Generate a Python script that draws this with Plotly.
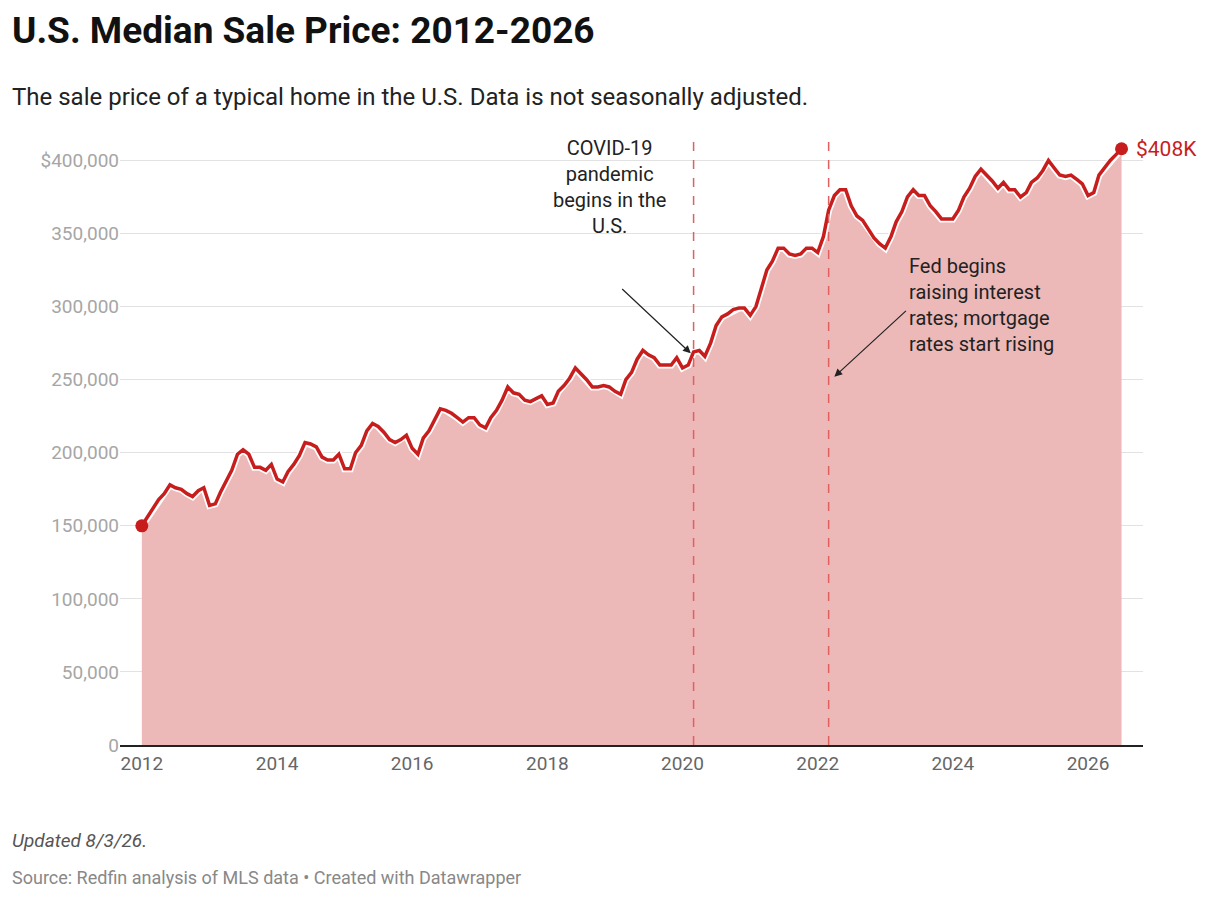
import pandas as pd
import plotly.graph_objects as go

# monthly median sale price, thousands of dollars, Jan 2012 - Jul 2026
prices_k = [
    150, 156, 162, 168, 172, 178, 176, 175, 172, 170, 174, 176,  # 2012
    164, 165, 173, 180, 188, 199, 202, 199, 190, 190, 188, 192,  # 2013
    182, 180, 187, 192, 198, 207, 206, 204, 197, 195, 195, 199,  # 2014
    189, 189, 200, 205, 215, 220, 218, 214, 209, 207, 209, 212,  # 2015
    203, 199, 210, 215, 222, 230, 229, 227, 224, 221, 224, 224,  # 2016
    219, 217, 224, 229, 236, 245, 241, 240, 236, 235, 237, 239,  # 2017
    233, 234, 242, 246, 251, 258, 254, 250, 245, 245, 246, 245,  # 2018
    242, 240, 250, 255, 264, 270, 267, 265, 260, 260, 260, 265,  # 2019
    258, 260, 269, 270, 266, 275, 287, 293, 295, 298, 299, 299,  # 2020
    294, 300, 312, 325, 331, 340, 340, 336, 335, 336, 340, 340,  # 2021
    337, 348, 366, 376, 380, 380, 369, 362, 359, 353, 347, 343,  # 2022
    340, 348, 358, 365, 375, 380, 376, 376, 369, 365, 360, 360,  # 2023
    360, 366, 375, 381, 389, 394, 390, 386, 381, 385, 380, 380,  # 2024
    375, 378, 385, 388, 393, 400, 395, 390, 389, 390, 387, 384,  # 2025
    376, 378, 390, 395, 400, 404, 408,                           # 2026
]
dates = pd.date_range("2012-01-01", periods=len(prices_k), freq="MS")
prices = [p * 1000 for p in prices_k]

tick_years = list(range(2012, 2027, 2))
y_ticks = [0, 50000, 100000, 150000, 200000, 250000, 300000, 350000, 400000]
y_labels = ["0", "50,000", "100,000", "150,000", "200,000", "250,000", "300,000", "350,000", "$400,000"]

covid_date = "2020-03-01"
fed_date = "2022-03-01"

RED = "#c71e1d"
FILL = "#ecb9b8"
FONT = "Roboto"
LEFT = -0.1075  # paper x of the left text column

fig = go.Figure()
fig.add_trace(go.Scatter(x=dates, y=prices, mode="lines", line=dict(width=0),
                         fill="tozeroy", fillcolor=FILL, hoverinfo="skip"))
fig.add_trace(go.Scatter(x=dates, y=prices, mode="lines",
                         line=dict(color="white", width=7), hoverinfo="skip"))
fig.add_trace(go.Scatter(x=dates, y=prices, mode="lines",
                         line=dict(color=RED, width=3.5)))
fig.add_trace(go.Scatter(x=[dates[0], dates[-1]], y=[prices[0], prices[-1]], mode="markers",
                         marker=dict(color=RED, size=13)))

for d in (covid_date, fed_date):
    fig.add_shape(type="line", x0=d, x1=d, y0=0, y1=1, yref="paper",
                  line=dict(color="#e06060", width=1.5, dash="dash"))

fig.add_annotation(x=dates[-1], y=prices[-1], text="$408K", showarrow=False,
                   xanchor="left", xshift=12, font=dict(color=RED, size=21))

fig.add_annotation(x="2020-02-15", y=268000, ax="2019-02-01", ay=313000,
                   axref="x", ayref="y", showarrow=True, arrowhead=2, arrowsize=1.3,
                   arrowwidth=1.2, arrowcolor="#222", text="")
fig.add_annotation(x="2018-12-01", y=382000, showarrow=False,
                   text="COVID-19<br>pandemic<br>begins in the<br>U.S.",
                   font=dict(size=20, color="#222"), align="center")

fig.add_annotation(x="2022-04-01", y=252000, ax="2023-05-01", ay=298000,
                   axref="x", ayref="y", showarrow=True, arrowhead=2, arrowsize=1.3,
                   arrowwidth=1.2, arrowcolor="#222", text="")
fig.add_annotation(x="2023-05-01", y=301000, showarrow=False, xanchor="left",
                   text="Fed begins<br>raising interest<br>rates; mortgage<br>rates start rising",
                   font=dict(size=20, color="#222"), align="left")

fig.update_layout(
    width=1220, height=900,
    margin=dict(l=112, r=85, t=132, b=163),
    paper_bgcolor="white", plot_bgcolor="white",
    showlegend=False,
    font=dict(family=FONT),
    xaxis=dict(range=["2011-09-05", "2026-10-25"],
               tickvals=[f"{y}-01-01" for y in tick_years],
               ticktext=[str(y) for y in tick_years],
               tickfont=dict(size=19, color="#666"),
               showgrid=False, showline=True, linecolor="#222", linewidth=1.5,
               ticks="outside", ticklen=0),
    yaxis=dict(range=[0, 414000], tickvals=y_ticks, ticktext=y_labels,
               tickfont=dict(size=19, color="#a6a6a6"),
               showgrid=True, gridcolor="#e2e2e2", gridwidth=1,
               zeroline=False, ticks="", ticklabelstandoff=0),
)

fig.add_annotation(xref="paper", yref="paper", x=LEFT, y=1.0, yshift=110, xanchor="left",
                   yanchor="middle", showarrow=False,
                   text="<b>U.S. Median Sale Price: 2012-2026</b>",
                   font=dict(size=37, color="#111"))
fig.add_annotation(xref="paper", yref="paper", x=LEFT, y=1.0, yshift=43, xanchor="left",
                   yanchor="middle", showarrow=False,
                   text="The sale price of a typical home in the U.S. Data is not seasonally adjusted.",
                   font=dict(size=24, color="#222"))
fig.add_annotation(xref="paper", yref="paper", x=LEFT, y=0, yshift=-95, xanchor="left",
                   yanchor="middle", showarrow=False, text="<i>Updated 8/3/26.</i>",
                   font=dict(size=19, color="#555"))
fig.add_annotation(xref="paper", yref="paper", x=LEFT, y=0, yshift=-132, xanchor="left",
                   yanchor="middle", showarrow=False,
                   text="Source: Redfin analysis of MLS data • Created with Datawrapper",
                   font=dict(size=18, color="#888"))

fig.write_html("out.html")
